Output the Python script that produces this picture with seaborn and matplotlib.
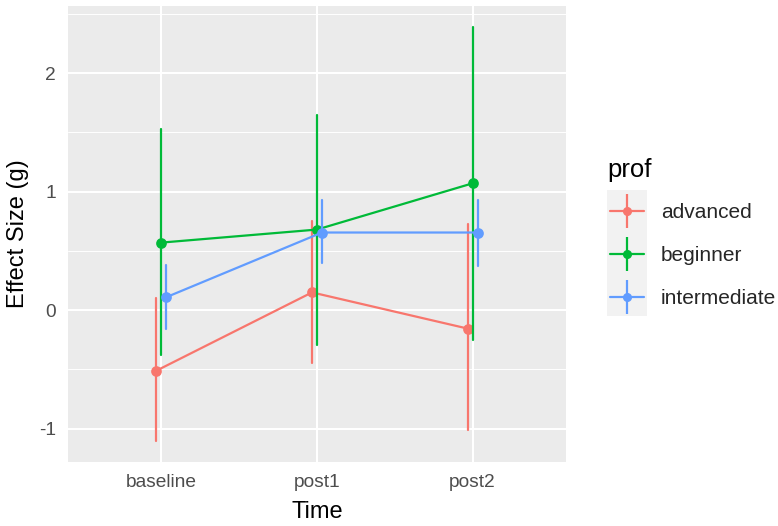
import numpy as np
import pandas as pd
import matplotlib
matplotlib.use("Agg")
import matplotlib.pyplot as plt
from matplotlib.lines import Line2D
from matplotlib.legend_handler import HandlerTuple
from matplotlib.patches import Rectangle
import seaborn as sns

# categories
times = ["baseline", "post1", "post2"]
profs = ["advanced", "beginner", "intermediate"]
colors = ["#F8766D", "#00BA38", "#619CFF"]

# effect size (g) with lower / upper interval bounds, in time order
adv_g = [-0.51, 0.15, -0.155]
adv_lo = [-1.10, -0.445, -1.01]
adv_hi = [0.10, 0.75, 0.73]

beg_g = [0.57, 0.68, 1.07]
beg_lo = [-0.38, -0.29, -0.25]
beg_hi = [1.53, 1.645, 2.39]

int_g = [0.11, 0.655, 0.655]
int_lo = [-0.155, 0.395, 0.37]
int_hi = [0.385, 0.93, 0.93]

series = {
    "advanced": (adv_lo, adv_g, adv_hi),
    "beginner": (beg_lo, beg_g, beg_hi),
    "intermediate": (int_lo, int_g, int_hi),
}

# long table: three rows per point (lo, g, hi) -> median is g, min/max is the interval
rows = []
for prof, (lo, g, hi) in series.items():
    for i, t in enumerate(times):
        for v in (lo[i], g[i], hi[i]):
            rows.append({"Time": t, "g": v, "prof": prof})
df = pd.DataFrame(rows)

sns.set_style("darkgrid", {"axes.facecolor": "#EBEBEB", "grid.color": "white"})
plt.rcParams["font.family"] = ["Liberation Sans", "DejaVu Sans"]
plt.rcParams["axes.unicode_minus"] = False

fig = plt.figure(figsize=(7.78, 5.26), dpi=100)
ax = fig.add_axes([68 / 778, 1 - 462 / 526, 498 / 778, 456 / 526])

sns.pointplot(data=df, x="Time", y="g", hue="prof", order=times, hue_order=profs,
              palette=colors, estimator="median",
              errorbar=lambda v: (v.min(), v.max()),
              dodge=0.064, markersize=6.5, linewidth=1.6,
              err_kws={"linewidth": 1.6}, ax=ax)
ax.get_legend().remove()

ax.set_xlim(-0.6, 2.6)
ax.set_ylim(-1.28, 2.565)
ax.set_yticks([-1, 0, 1, 2])
ax.set_yticks([-0.5, 0.5, 1.5, 2.5], minor=True)
ax.grid(True, which="major", color="white", linewidth=1.5)
ax.grid(True, which="minor", axis="y", color="white", linewidth=0.7)
ax.set_axisbelow(True)
for s in ax.spines.values():
    s.set_visible(False)
ax.tick_params(which="major", length=4.5, width=1.1, color="#333333",
               labelcolor="#4D4D4D", labelsize=13.8, pad=4)
ax.tick_params(which="minor", length=0)
ax.set_xlabel("Time", fontsize=17, color="black", labelpad=7)
ax.set_ylabel("Effect Size (g)", fontsize=17, color="black", labelpad=7)

# legend with a grey key column, like ggplot
fig.add_artist(Rectangle((607 / 778, 1 - 316 / 526), 40 / 778, 126 / 526,
                         transform=fig.transFigure, facecolor="#F2F2F2",
                         edgecolor="none", zorder=0))
fig.text(607 / 778, 1 - 177 / 526, "prof", fontsize=18.5, color="black",
         ha="left", va="baseline")
handles = [
    (Line2D([], [], color=c, lw=1.6, marker="o", ms=5.5),
     Line2D([], [], color=c, marker="|", ms=24.5, mew=1.6, linestyle="none"))
    for c in colors
]
fig.legend(handles, profs, loc="upper left",
           bbox_to_anchor=(610 / 778, 1 - 203 / 526), frameon=False,
           fontsize=15, borderpad=0, borderaxespad=0, handlelength=1.63,
           handletextpad=0.82, labelspacing=1.15,
           handler_map={tuple: HandlerTuple(ndivide=1)})

fig.savefig("out.png", dpi=100)
